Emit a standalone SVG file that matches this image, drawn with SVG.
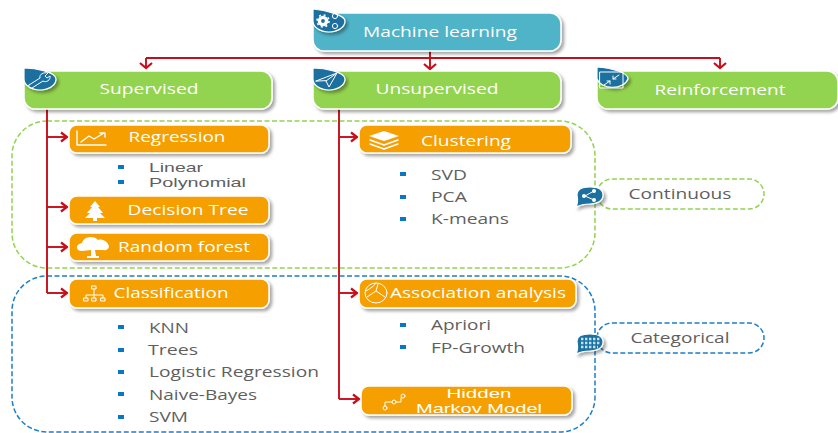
<svg xmlns="http://www.w3.org/2000/svg" width="838" height="433" viewBox="0 0 838 433">
<style>
text{font-family:"Open Sans","Liberation Sans",sans-serif;text-anchor:middle}
.t{fill:#fff;font-size:15px}
text.s{fill:#fff;font-size:13px;font-family:"Liberation Sans",sans-serif}
.l{fill:#5f5f5f;font-size:15px;text-anchor:start}
text.ls{fill:#5f5f5f;font-size:13px;text-anchor:start;font-family:"Liberation Sans",sans-serif}
.n{fill:#5f5f5f;font-size:15px}
.box{stroke:#fff;stroke-width:1.5;filter:url(#sh)}
.g{fill:#92d350}.o{fill:#f59f00}.b{fill:#4fb4c8}
.drop{fill:#1f6f9f;stroke:#fff;stroke-width:1.2;filter:url(#sh)}
.i{fill:none;stroke:#fff;stroke-width:1.4;stroke-linecap:round;stroke-linejoin:round}
.th{stroke-width:1}
.f{fill:#fff}
.c{fill:none;stroke:#c80d1a;stroke-width:1.9}
.bu{fill:#0a76c4}
.dg{fill:none;stroke:#92d350;stroke-width:1.5;stroke-dasharray:5 2.5}
.db{fill:none;stroke:#1e7fc6;stroke-width:1.5;stroke-dasharray:5 2.5}
</style>
<defs>
<filter id="sh" x="-10%" y="-20%" width="125%" height="150%"><feDropShadow dx="2.5" dy="2.5" stdDeviation="1.6" flood-color="#000" flood-opacity=".35"/></filter>
<marker id="h" markerWidth="9" markerHeight="12" refX="7" refY="6" orient="0" markerUnits="userSpaceOnUse"><path d="M1 1.5L7 6L1 10.5" fill="none" stroke="#c80d1a" stroke-width="2.2"/></marker>
<marker id="v" markerWidth="14" markerHeight="9" refX="7" refY="7" orient="0" markerUnits="userSpaceOnUse"><path d="M1 2L7 7L13 2" fill="none" stroke="#c80d1a" stroke-width="2.2"/></marker>
</defs>

<g id="groups">
<rect class="dg" x="12" y="121" width="583" height="147" rx="35"/>
<rect class="db" x="12" y="276" width="583" height="156" rx="35"/>
</g>

<g id="connectors">
<path class="c" d="M146 58H720"/>
<path class="c" d="M146 58V68" marker-end="url(#v)"/>
<path class="c" d="M430 51V69" marker-end="url(#v)"/>
<path class="c" d="M720 58V68" marker-end="url(#v)"/>
<path class="c" d="M47 109V293"/>
<path class="c" d="M47 137H67" marker-end="url(#h)"/>
<path class="c" d="M47 207H67" marker-end="url(#h)"/>
<path class="c" d="M47 247H67" marker-end="url(#h)"/>
<path class="c" d="M47 293H67" marker-end="url(#h)"/>
<path class="c" d="M339 109V399"/>
<path class="c" d="M339 137H357" marker-end="url(#h)"/>
<path class="c" d="M339 293H357" marker-end="url(#h)"/>
<path class="c" d="M339 399H359" marker-end="url(#h)"/>
</g>

<g id="machine-learning">
<rect class="box b" x="313" y="13" width="248" height="38" rx="11"/>
<path class="drop" d="M313 9C325 10 345 15 345 21A16 11 0 0 1 313 21Z"/>
<circle cx="323" cy="21" r="3.6" fill="none" stroke="#fff" stroke-width="3.4"/>
<circle cx="323" cy="21" r="6" fill="none" stroke="#fff" stroke-width="1.6" stroke-dasharray="2 2.7"/>
<circle class="i th" cx="335" cy="16" r="2.6"/><circle class="i th" cx="335" cy="26" r="2.6"/>
<text class="t" x="440" y="37" textLength="154" lengthAdjust="spacingAndGlyphs">Machine learning</text>
</g>

<g id="supervised">
<rect class="box g" x="24" y="71" width="248" height="38" rx="11"/>
<path class="drop" d="M24 68C36 68 56 72 56 79A16 11 0 0 1 24 79Z"/>
<path class="i th" d="M29 85L40 78C39 74 44 72 48 73L45 76L47 78L50 76C51 80 46 83 43 81L32 88C30 89 28 87 29 85Z"/>
<text class="t" x="149" y="94" textLength="99" lengthAdjust="spacingAndGlyphs">Supervised</text>
</g>

<g id="unsupervised">
<rect class="box g" x="313" y="71" width="248" height="38" rx="11"/>
<path class="drop" d="M313 68C325 68 345 72 345 79A16 11 0 0 1 313 79Z"/>
<path class="i th" d="M316 81L337 73L329 87L326 81ZM326 81L337 73"/>
<text class="t" x="437" y="94" textLength="123" lengthAdjust="spacingAndGlyphs">Unsupervised</text>
</g>

<g id="reinforcement">
<rect class="box g" x="597" y="71" width="241" height="38" rx="11"/>
<path class="drop" d="M597 67C610 68 628 72 628 79A16 11 0 0 1 597 79Z"/>
<rect class="i th" x="600" y="72" width="23" height="16"/>
<path class="i th" d="M604 85L610 81M607 81H610V84M619 75L613 79M613 76V79H616"/>
<text class="t" x="720" y="95" textLength="131" lengthAdjust="spacingAndGlyphs">Reinforcement</text>
</g>

<g id="regression">
<rect class="box o" x="69" y="125" width="200" height="28" rx="8"/>
<path class="i" d="M77 131V145H106M81 142L89 136L94 139L104 133M100 133H105V137"/>
<text class="t" x="177" y="142" textLength="97" lengthAdjust="spacingAndGlyphs">Regression</text>
</g>
<g id="regression-items">
<rect class="bu" x="118" y="165" width="6" height="4"/><text class="ls" x="149" y="172" textLength="54" lengthAdjust="spacingAndGlyphs">Linear</text>
<rect class="bu" x="118" y="180" width="6" height="4"/><text class="ls" x="149" y="187" textLength="97" lengthAdjust="spacingAndGlyphs">Polynomial</text>
</g>

<g id="decision-tree">
<rect class="box o" x="69" y="196" width="200" height="28" rx="8"/>
<path class="f" d="M95 201L100 207H98L103 213H100L105 218H97V221H93V218H85L90 213H87L92 207H90Z"/>
<text class="t" x="188" y="215" textLength="121" lengthAdjust="spacingAndGlyphs">Decision Tree</text>
</g>

<g id="random-forest">
<rect class="box o" x="69" y="233" width="200" height="28" rx="8"/>
<path class="f" d="M82 251C75 251 75 244 82 243C83 236 95 235 98 240C104 238 108 243 109 246C109 249 106 251 103 250L95 250L96 256H99V258H87V256H91L91 250Z"/>
<text class="t" x="184" y="252" textLength="132" lengthAdjust="spacingAndGlyphs">Random forest</text>
</g>

<g id="classification">
<rect class="box o" x="69" y="279" width="200" height="29" rx="8"/>
<path class="i th" d="M94 289V298M86 298V295H103V298"/>
<rect class="i th" x="92" y="286" width="4" height="3"/><rect class="i th" x="84" y="298" width="4" height="3"/><rect class="i th" x="92" y="298" width="4" height="3"/><rect class="i th" x="101" y="298" width="4" height="3"/>
<text class="t" x="171" y="298" textLength="115" lengthAdjust="spacingAndGlyphs">Classification</text>
</g>
<g id="classification-items">
<rect class="bu" x="118" y="325" width="6" height="4"/><text class="l" x="149" y="333" textLength="40" lengthAdjust="spacingAndGlyphs">KNN</text>
<rect class="bu" x="118" y="348" width="6" height="4"/><text class="l" x="148" y="355" textLength="50" lengthAdjust="spacingAndGlyphs">Trees</text>
<rect class="bu" x="118" y="370" width="6" height="4"/><text class="l" x="149" y="377" textLength="170" lengthAdjust="spacingAndGlyphs">Logistic Regression</text>
<rect class="bu" x="118" y="392" width="6" height="4"/><text class="l" x="149" y="400" textLength="108" lengthAdjust="spacingAndGlyphs">Naive-Bayes</text>
<rect class="bu" x="118" y="415" width="6" height="4"/><text class="l" x="149" y="422" textLength="39" lengthAdjust="spacingAndGlyphs">SVM</text>
</g>

<g id="clustering">
<rect class="box o" x="359" y="125" width="212" height="28" rx="8"/>
<path class="f" d="M384 131L399 136L384 141L369 136Z"/>
<path class="i" d="M370 140L384 145L398 140M370 144L384 149L398 144"/>
<text class="t" x="466" y="146" textLength="90" lengthAdjust="spacingAndGlyphs">Clustering</text>
</g>
<g id="clustering-items">
<rect class="bu" x="400" y="172" width="6" height="4"/><text class="l" x="431" y="180" textLength="36" lengthAdjust="spacingAndGlyphs">SVD</text>
<rect class="bu" x="400" y="195" width="6" height="4"/><text class="l" x="431" y="202" textLength="36" lengthAdjust="spacingAndGlyphs">PCA</text>
<rect class="bu" x="400" y="217" width="6" height="4"/><text class="l" x="431" y="224" textLength="78" lengthAdjust="spacingAndGlyphs">K-means</text>
</g>

<g id="association-analysis">
<rect class="box o" x="359" y="279" width="217" height="29" rx="8"/>
<ellipse class="i th" cx="376" cy="293" rx="11" ry="10"/>
<path class="i th" d="M367 297L376 291L385 297M376 291L378 284M366 291C371 288 374 286 376 283"/>
<text class="t" x="478" y="298" textLength="176" lengthAdjust="spacingAndGlyphs">Association analysis</text>
</g>
<g id="association-items">
<rect class="bu" x="400" y="323" width="6" height="4"/><text class="l" x="431" y="330" textLength="60" lengthAdjust="spacingAndGlyphs">Apriori</text>
<rect class="bu" x="400" y="345" width="6" height="4"/><text class="l" x="431" y="353" textLength="94" lengthAdjust="spacingAndGlyphs">FP-Growth</text>
</g>

<g id="hidden-markov-model">
<rect class="box o" x="361" y="386" width="211" height="29" rx="8"/>
<path class="i th" d="M385 406V402H392M396 402H401V398"/>
<circle class="i th" cx="385" cy="408" r="2"/><circle class="i th" cx="394" cy="402" r="2"/><circle class="i th" cx="403" cy="396" r="2"/>
<text class="s" x="479" y="398" textLength="65" lengthAdjust="spacingAndGlyphs">Hidden</text>
<text class="s" x="479" y="413" textLength="126" lengthAdjust="spacingAndGlyphs">Markov Model</text>
</g>

<g id="continuous">
<rect class="dg" x="597" y="179" width="167" height="30" rx="15"/>
<path class="drop" d="M576 207C579 201 577 197 577 195C577 188 584 187 590 187C598 187 603 190 603 195C603 201 597 204 590 204C586 204 580 205 576 207Z"/>
<path class="i th" d="M585 196L594 191M585 196L594 200"/>
<circle class="f" cx="584" cy="196" r="2"/><circle class="f" cx="594" cy="191" r="2"/><circle class="f" cx="594" cy="200" r="2"/>
<text class="n" x="680" y="199" textLength="103" lengthAdjust="spacingAndGlyphs">Continuous</text>
</g>

<g id="categorical">
<rect class="db" x="597" y="323" width="167" height="30" rx="15"/>
<path class="drop" d="M576 354C579 348 577 344 577 341C577 335 584 334 590 334C598 334 603 337 603 342C603 348 597 351 590 351C586 351 580 352 576 354Z"/>
<path d="M581 339H600M581 343H600M581 347H598" stroke="#bfe3f5" stroke-width="2.4" stroke-dasharray="2.4 1.6" fill="none"/>
<text class="n" x="680" y="343" textLength="99" lengthAdjust="spacingAndGlyphs">Categorical</text>
</g>
</svg>
